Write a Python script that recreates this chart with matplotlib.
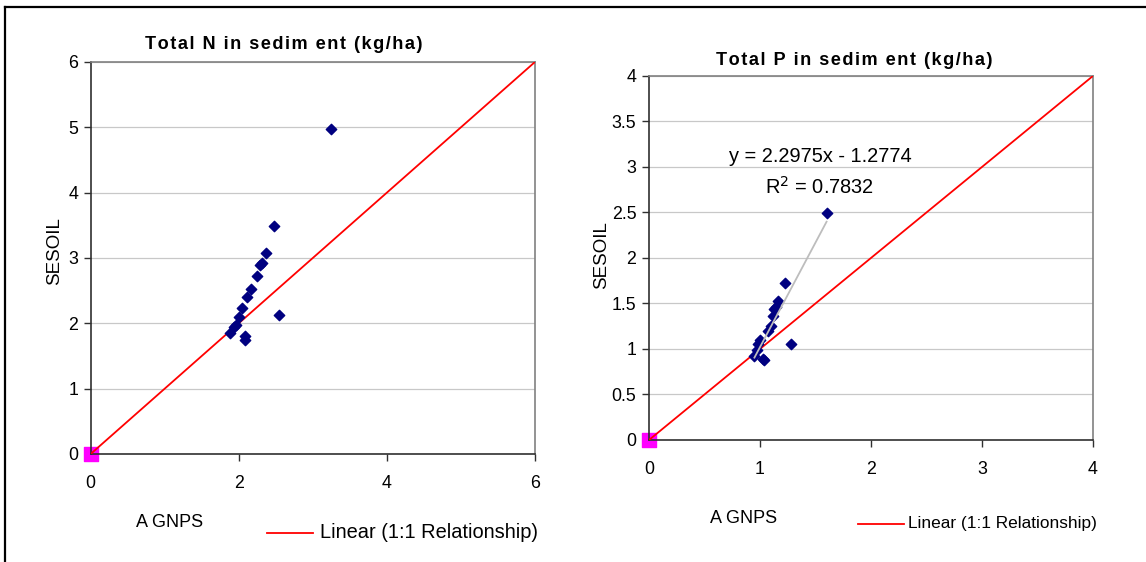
import numpy as np
import matplotlib.pyplot as plt
from matplotlib.lines import Line2D

plt.rcParams['font.family'] = ['Liberation Sans', 'DejaVu Sans']

# AGNPS vs SESOIL, total N in sediment (kg/ha)
n_agnps = [3.24, 2.47, 2.37, 2.32, 2.29, 2.24, 2.16, 2.11, 2.05, 2.00, 1.96, 1.94, 1.88, 2.55, 2.08, 2.08]
n_sesoil = [4.97, 3.49, 3.08, 2.93, 2.90, 2.73, 2.53, 2.41, 2.24, 2.09, 1.98, 1.95, 1.85, 2.12, 1.80, 1.74]

# AGNPS vs SESOIL, total P in sediment (kg/ha)
p_agnps = [1.60, 1.225, 1.16, 1.14, 1.13, 1.12, 1.10, 1.07, 1.00, 0.98, 0.97, 0.95, 1.03, 1.04, 1.28]
p_sesoil = [2.49, 1.73, 1.53, 1.46, 1.44, 1.36, 1.25, 1.20, 1.10, 1.05, 0.99, 0.92, 0.89, 0.875, 1.06]

# Excel trendline for P
p_slope = 2.2975
p_icept = -1.2774
p_r2 = 0.7832

origin = [0], [0]

fig = plt.figure(figsize=(11.46, 5.62), dpi=100)

# frame lines on the left and top of the figure
fig.add_artist(Line2D([0.0045, 0.0045], [0, 0.988], color='black', lw=1.6, transform=fig.transFigure))
fig.add_artist(Line2D([0.0045, 1], [0.988, 0.988], color='black', lw=1.6, transform=fig.transFigure))


def track(text, gap='\u200a'):
    # wide letter spacing, like the exported Excel titles
    return gap.join(text)


def style_axes(ax, xmax, ymax, yticks, xticks):
    ax.set_xlim(0, xmax)
    ax.set_ylim(0, ymax)
    ax.set_xticks(xticks)
    ax.set_yticks(yticks)
    ax.set_yticklabels([('%g' % t) for t in yticks])
    ax.grid(axis='y', color='#c8c8c8', lw=0.9)
    ax.set_axisbelow(True)
    for s in ['top', 'right']:
        ax.spines[s].set_color('#808080')
        ax.spines[s].set_linewidth(1.2)
    for s in ['left', 'bottom']:
        ax.spines[s].set_color('#303030')
        ax.spines[s].set_linewidth(1.2)
    ax.tick_params(direction='out', length=5, width=1, color='#303030', labelsize=12.8, pad=4)
    ax.tick_params(axis='x', pad=10)


# ---- left: total N
ax1 = fig.add_axes([0.0791, 0.1922, 0.3877, 0.6975])
style_axes(ax1, 6, 6, [0, 1, 2, 3, 4, 5, 6], [0, 2, 4, 6])
ax1.plot([0, 6], [0, 6], color='red', lw=1.3, zorder=3)
ax1.scatter(n_agnps, n_sesoil, marker='D', s=28, color='#000080', zorder=4)
ax1.scatter(*origin, marker='s', s=110, color='#ff00ff', zorder=2, clip_on=False)
ax1.set_ylabel('SESOIL', fontsize=13.5)
ax1.yaxis.set_label_coords(-0.0625, 0.518)
fig.text(0.119, 0.071, 'A GNPS', fontsize=13, ha='left', va='center')
fig.text(0.2476, 0.92, track('Total N in sedim ent (kg/ha)'), ha='center', va='center',
         fontsize=13.1, fontweight='bold')
fig.add_artist(Line2D([0.233, 0.273], [0.052, 0.052], color='red', lw=1.3, transform=fig.transFigure))
fig.text(0.279, 0.052, 'Linear (1:1 Relationship)', fontsize=14.4, ha='left', va='center')

# ---- right: total P
ax2 = fig.add_axes([0.5663, 0.2171, 0.3874, 0.6477])
style_axes(ax2, 4, 4, [0, 0.5, 1, 1.5, 2, 2.5, 3, 3.5, 4], [0, 1, 2, 3, 4])
ax2.plot([0, 4], [0, 4], color='red', lw=1.3, zorder=3)
ax2.scatter(p_agnps, p_sesoil, marker='D', s=28, color='#000080', zorder=4)
xs = np.array([min(p_agnps), max(p_agnps)])
ax2.plot(xs, p_slope * xs + p_icept, color='#bdbdbd', lw=1.3, zorder=5)
ax2.scatter(*origin, marker='s', s=110, color='#ff00ff', zorder=2, clip_on=False)
ax2.set_ylabel('SESOIL', fontsize=13.5)
ax2.yaxis.set_label_coords(-0.088, 0.508)
fig.text(0.6195, 0.077, 'A GNPS', fontsize=13, ha='left', va='center')
fig.text(0.745, 0.893, track('Total P in sedim ent (kg/ha)'), ha='center', va='center',
         fontsize=13.1, fontweight='bold')
ax2.text(1.54, 3.11, 'y = %.4fx - %.4f' % (p_slope, -p_icept), fontsize=14.4, ha='center', va='center')
ax2.text(1.54, 2.78, 'R$^2$ = %.4f' % p_r2, fontsize=14.4, ha='center', va='center')
fig.add_artist(Line2D([0.749, 0.789], [0.068, 0.068], color='red', lw=1.3, transform=fig.transFigure))
fig.text(0.792, 0.068, 'Linear (1:1 Relationship)', fontsize=12.4, ha='left', va='center')

fig.savefig('out.png', dpi=100)
